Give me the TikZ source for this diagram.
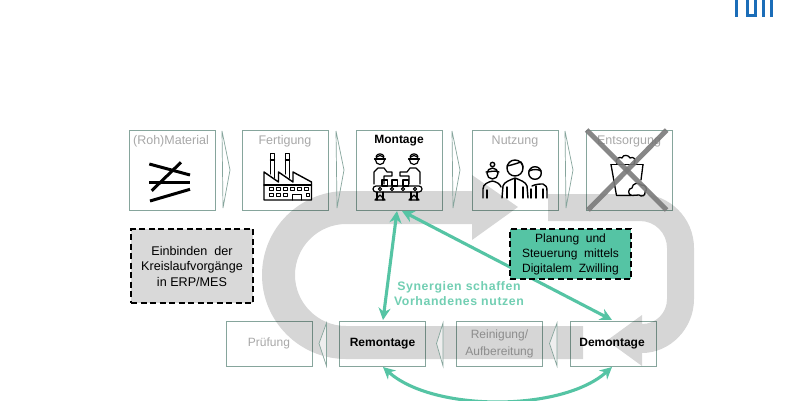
\documentclass[tikz,border=0pt]{standalone}
\usepackage{fontspec}
\setmainfont{Liberation Sans}
\usetikzlibrary{calc,arrows.meta}
\definecolor{frameC}{HTML}{86A59C}
\definecolor{fadeC}{HTML}{A8A8A8}
\definecolor{greenC}{HTML}{55C4A4}
\definecolor{greenT}{HTML}{72CFB3}
\definecolor{tumC}{HTML}{1B6DB8}
\tikzset{
  stepbox/.style={draw=frameC,line width=.8pt,fill=white,minimum width=86pt,inner sep=0pt,outer sep=0pt},
  topbox/.style={stepbox,minimum height=80pt},
  lowbox/.style={stepbox,minimum height=45pt},
  toplabel/.style={font=\fontsize{12.5}{14}\selectfont,inner sep=0pt},
  faded/.style={text=fadeC},
  lowlabel/.style={font=\fontsize{12}{17}\selectfont,align=center,inner sep=0pt},
  loopband/.style={fill=black,fill opacity=.16,draw=none},
  chevron/.style={draw=frameC,line width=.7pt,line join=miter},
  icon/.style={draw=black,line width=1.4pt,line cap=round,line join=round},
  iconthick/.style={draw=black,line width=3pt},
  dashbox/.style={draw=black,line width=1.6pt,dash pattern=on 6pt off 3.5pt,align=center,inner sep=0pt,outer sep=0pt},
  link/.style={draw=greenC,line width=3.1pt,{Stealth[length=12pt,width=12pt]}-{Stealth[length=12pt,width=12pt]}},
  crossbar/.style={draw=black!52,draw opacity=.9,line width=5pt},
  logobar/.style={draw=tumC,line width=3pt},
}
\begin{document}
\begin{tikzpicture}[x=1pt,y=-1pt]
\useasboundingbox (0,0) rectangle (800,400);
\fill[white] (0,0) rectangle (800,400);
% logo
\draw[logobar] (736.5,0) -- (736.5,17);
\draw[logobar] (747.5,0) -- (747.5,15.5) -- (755.5,15.5) -- (755.5,0);
\draw[logobar] (763.5,0) -- (763.5,17);
\draw[logobar] (771.5,0) -- (771.5,17);
% top boxes
\node[topbox] (material) at (172,170) {};
\node[topbox] (fertigung) at (285,170) {};
\node[topbox] (montage) at (399,170) {};
\node[topbox] (nutzung) at (515,170) {};
\node[topbox] (entsorgung) at (629,170) {};
\node[toplabel,faded] (tmaterial) at (171,141) {(Roh)Material};
\node[toplabel,faded] (tfertigung) at (285,141) {Fertigung};
\node[toplabel] (tmontage) at (399,141) {\fontsize{12}{14}\selectfont\textbf{Montage}};
\node[toplabel,faded] (tnutzung) at (515,141) {Nutzung};
\node[toplabel,faded] (tentsorgung) at (629,141) {Entsorgung};
% bottom boxes
\node[lowbox] (pruefung) at (269,343.5) {};
\node[lowbox] (remontage) at (382.5,343.5) {};
\node[lowbox] (reinigung) at (499.5,343.5) {};
\node[lowbox] (demontage) at (613,343.5) {};
\node[lowlabel,faded] (tpruefung) at (269,343.5) {Prüfung};
\node[lowlabel] (tremontage) at (382.5,343.5) {\textbf{Remontage}};
\node[lowlabel,faded] (treinigung) at (499.5,343.5) {Reinigung/\\Aufbereitung};
\node[lowlabel] (tdemontage) at (612,343.5) {\textbf{Demontage}};
% material icon
\draw[iconthick] (149.3,164) -- (190,175);
\draw[iconthick] (181,162.3) -- (151.7,190.7);
\draw[iconthick] (149.3,182.5) -- (190,182.5);
\draw[iconthick] (150,201) -- (190,189.3);
% factory icon
\begin{scope}[icon]
\draw (264,200) -- (264,172) -- (278.5,182) -- (278.5,172) -- (293,182) -- (293,172) -- (311.5,182) -- (311.5,200) -- cycle;
\draw (270.5,174) -- (270.5,153.5) -- (274.5,153.5) -- (274.5,178);
\draw (285.5,174) -- (285.5,153.5) -- (289.5,153.5) -- (289.5,178);
\draw (270.5,160) -- (274.5,160) (285.5,160) -- (289.5,160);
\draw (264,185) -- (311.5,185);
\foreach \wx in {271,278,285,292,299,306}{\draw[line width=1pt] (\wx-2,187.5) rectangle (\wx+2,190.5);}
\foreach \wx in {271,278,285}{\draw[line width=1pt] (\wx-2,193.5) rectangle (\wx+2,196.5);}
\draw[line width=1pt] (292,200) -- (292,194) -- (301,194) -- (301,200);
\draw[line width=1pt] (306,193.5) rectangle (309,196.5);
\end{scope}
% montage icon
\begin{scope}[icon,line width=1.2pt]
\draw (380,160) circle (4.5);
\draw (374.5,159) -- (385.5,159);
\draw (376,156.5) .. controls (377,153) and (383,153) .. (384,156.5);
\draw (414,160) circle (4.5);
\draw (408.5,159) -- (419.5,159);
\draw (410,156.5) .. controls (411,153) and (417,153) .. (418,156.5);
\draw (374,184) -- (374,172) -- (378,168) -- (384,168) -- (387,172) -- (392,172) -- (392,176) -- (384,176) -- (384,184);
\draw (420,184) -- (420,172) -- (416,168) -- (410,168) -- (407,172) -- (400,172) -- (400,176) -- (409,176) -- (409,184);
\draw (382,180) rectangle (387.5,186);
\draw (392,180) rectangle (397.5,186);
\draw (403,180) rectangle (408.5,186);
\draw[rounded corners=3pt] (373,186) rectangle (422,192);
\foreach \cx in {380,392,403,415}{\draw (\cx,189) circle (1.6);}
\draw (377,192) -- (377,200) (383,192) -- (383,200) (411,192) -- (411,200) (417,192) -- (417,200);
\draw (375,200) -- (380,195) -- (385,200) -- cycle;
\draw (409,200) -- (414,195) -- (419,200) -- cycle;
\end{scope}
% people icon
\begin{scope}[icon,line width=1.4pt]
\draw (492.5,173.5) circle (5.5);
\draw (492.5,164.5) circle (2.2);
\draw (486,172) .. controls (490,172) and (495,170) .. (499,172);
\draw (483,198) -- (483,189) .. controls (483,184) and (488,182) .. (492.5,181) .. controls (497,182) and (500,184) .. (501,187);
\draw (487,198) -- (487,190);
\draw (515,168) circle (8);
\draw (507,166) .. controls (512,165) and (518,163) .. (521,162) .. controls (522,164) and (523,165) .. (523,167);
\draw (502,198) -- (503,186) .. controls (504,182) and (510,180) .. (515,178) .. controls (520,180) and (526,182) .. (527,186) -- (528,198);
\draw (507,198) -- (507,187) (523,198) -- (523,187) (515,179) -- (515,198);
\draw (535,173) circle (6.3);
\draw (529,171) .. controls (533,169) and (538,169) .. (541,171);
\draw (532,186) .. controls (536,184) and (540,184) .. (543,184) .. controls (546,185) and (547,187) .. (547,191) -- (547,198);
\draw (531,198) -- (531,189) (536,198) -- (536,186) (543,198) -- (543,189);
\end{scope}
% bin icon
\begin{scope}[icon,line width=1.3pt]
\draw (611,164.5) -- (643,164.5);
\draw (611,164.5) -- (616.5,195.5) -- (631,195.5);
\draw (643,164.5) -- (641,180);
\draw (617,164) .. controls (614,159) and (620,156) .. (622,158) .. controls (623,154) and (629,155) .. (630,158) .. controls (633,156) and (637,159) .. (634,164);
\draw (632,195.5) .. controls (627,195) and (628,188) .. (632,188) .. controls (632,183) and (639,182) .. (641,185) .. controls (646,184) and (648,190) .. (645,192) .. controls (646,196) and (641,197) .. (639,195) -- (632,195.5);
\end{scope}
% grey loops
\path[loopband] (583,326) -- (346,326) .. controls (318,326) and (295,303) .. (295,275) .. controls (295,247) and (318,224) .. (346,224) -- (472,224) -- (472,240) -- (518,207) -- (472,175) -- (472,191) -- (346,191) .. controls (299.6,191) and (262,228.6) .. (262,275) .. controls (262,321.4) and (299.6,359) .. (346,359) -- (583,359) -- cycle;
\path[loopband] (548,194) -- (640,194) .. controls (669.8,194) and (694,218.2) .. (694,248) -- (694,299) .. controls (694,328.8) and (670,353) .. (642,353) -- (642,366) -- (607,340.5) -- (642,315) -- (642,324) .. controls (656,324) and (667,313) .. (667,299) -- (667,248) .. controls (667,233) and (655,221) .. (640,221) -- (548,221) -- cycle;
% chevrons
\draw[chevron] (222,131) -- (230,170) -- (223,208) -- cycle;
\draw[chevron] (336,131) -- (344,170) -- (337,208) -- cycle;
\draw[chevron] (452,131) -- (460,170) -- (453,208) -- cycle;
\draw[chevron] (565,131) -- (573,170) -- (566,208) -- cycle;
\draw[chevron,fill=white,fill opacity=.6] (326.5,323) -- (319,343.5) -- (326.5,366) -- cycle;
\draw[chevron,fill=white,fill opacity=.6] (443,323) -- (436.5,343.5) -- (443,366) -- cycle;
\draw[chevron,fill=white,fill opacity=.6] (557,323) -- (549.5,343.5) -- (557,366) -- cycle;
% green links
\draw[link] ([xshift=-2pt,yshift=-1pt]montage.south) -- ([xshift=0.5pt,yshift=1pt]remontage.north);
\draw[link] ([xshift=3pt,yshift=-1pt]montage.south) -- ([xshift=-1pt,yshift=1pt]demontage.north);
\draw[link] ([xshift=0.5pt,yshift=-1pt]remontage.south) .. controls +(50,45) and +(-50,45) .. ([xshift=-1pt,yshift=-1pt]demontage.south);
% dashed boxes
\node[dashbox,fill=black!15,minimum width=122pt,minimum height=74pt,font=\fontsize{12.6}{15.5}\selectfont] (einbinden) at (192,266) {Einbinden\ \ der\\Kreislaufvorgänge\\in ERP/MES};
\node[dashbox,fill=greenC,minimum width=121pt,minimum height=50pt,font=\fontsize{12}{15}\selectfont] (planung) at (570.5,254) {Planung\ \ und\\Steuerung\ \ mittels\\Digitalem\ \ Zwilling};
% synergy text
\node[font=\fontsize{12.3}{15.5}\selectfont\bfseries\addfontfeatures{LetterSpace=5},text=greenT,align=center,inner sep=0pt] (synergien) at (459,293.5) {Synergien schaffen\\Vorhandenes nutzen};
% cross
\draw[crossbar] (586.7,130) -- (666.7,210);
\draw[crossbar] (666.7,130) -- (588,210);
\end{tikzpicture}
\end{document}
